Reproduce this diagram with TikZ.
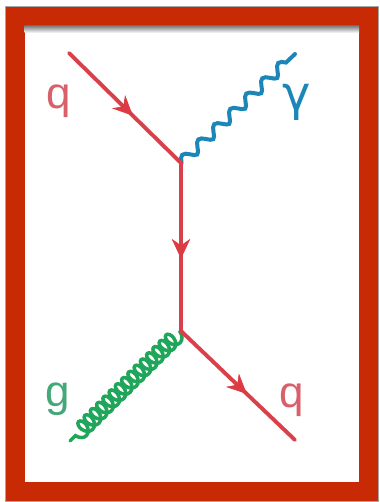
\documentclass[tikz,border=0pt]{standalone}
\usepackage{fontspec}
\setmainfont{Liberation Sans}
\newfontfamily\gamfont{DejaVu Sans}
\usetikzlibrary{decorations.pathmorphing,decorations.markings,arrows.meta}
\definecolor{framered}{HTML}{C92A06}
\definecolor{quark}{HTML}{D9404A}
\definecolor{photon}{HTML}{1C86B8}
\definecolor{gluon}{HTML}{1FA65A}
\definecolor{labq}{HTML}{D9606A}
\definecolor{labg}{HTML}{45A878}
\tikzset{
  quarkline/.style={draw=quark,line width=2.9pt,line cap=round},
  arrowmid/.style={postaction={decorate},decoration={markings,mark=at position #1 with {\arrow[quark!90!red,line width=0.5pt]{Stealth[length=15pt,width=14pt,inset=5pt]}}}},
  photonline/.style={draw=photon,line width=3pt,line cap=round,decorate,decoration={coil,aspect=0.08,segment length=16.6pt,amplitude=3.8pt,pre length=0.5pt,post length=0.5pt}},
  gluonline/.style={draw=gluon,line width=2.6pt,line cap=round,decorate,decoration={coil,aspect=0.7,segment length=6.6pt,amplitude=5.8pt,pre length=1pt,post length=1pt}},
  lab/.style={font=\fontsize{33}{33}\selectfont,inner sep=0pt,anchor=center}
}
\begin{document}
\begin{tikzpicture}[x=0.75pt,y=-0.75pt]
\useasboundingbox (0,0) rectangle (379,502);
\fill[white] (0,0) rectangle (379,502);
\fill[black!35] (5,6) rectangle (379,502);
\fill[framered] (6,7) rectangle (378,501);
\fill[white] (24.5,26) rectangle (359,482);
\shade[top color=black!50,bottom color=white] (24.5,26) rectangle (359,33);
\coordinate (qin) at (69,53);
\coordinate (v1) at (181,163);
\coordinate (v2) at (181,331);
\coordinate (qout) at (295,440);
\coordinate (pend) at (295,54);
\coordinate (gend) at (70,441);
\draw[photonline] (v1) -- (pend);
\draw[gluonline] (v2) -- (gend);
\draw[quarkline,arrowmid=0.57] (qin) -- (v1);
\draw[quarkline,arrowmid=0.57] (v1) -- (v2);
\draw[quarkline,arrowmid=0.58] (v2) -- (qout);
\node[lab,text=labq] (lq1) at (59,101) {q};
\node[lab,text=photon,font=\gamfont\fontsize{36}{36}\selectfont] (lgam) at (297,102) {γ};
\node[lab,text=labg] (lg) at (58,399) {g};
\node[lab,text=labq] (lq2) at (292,400) {q};
\end{tikzpicture}
\end{document}
